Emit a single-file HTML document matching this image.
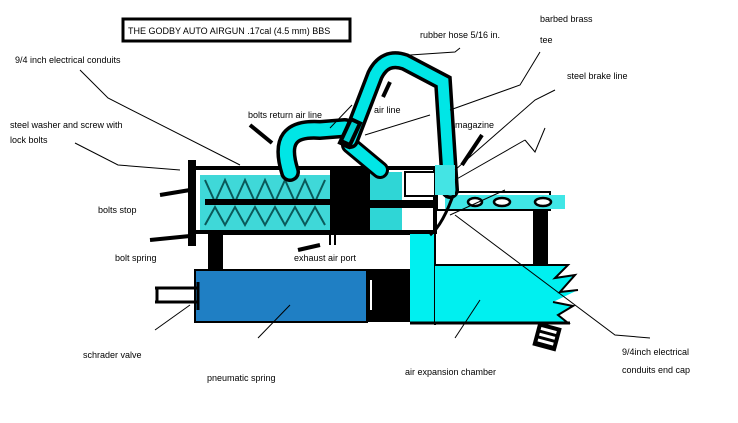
<!DOCTYPE html>
<html><head><meta charset="utf-8"><style>
html,body{margin:0;padding:0;background:#fff;}
svg{display:block;}
text{font-family:"Liberation Sans",sans-serif;font-size:9px;fill:#000;}
</style></head><body>
<svg width="738" height="423" viewBox="0 0 738 423" xmlns="http://www.w3.org/2000/svg">
<rect width="738" height="423" fill="#fff"/>
<rect x="123" y="19" width="227" height="22" fill="#fff" stroke="#000" stroke-width="3"/>
<text x="128" y="34" font-size="9">THE GODBY AUTO AIRGUN    .17cal (4.5 mm) BBS</text>

<rect x="208" y="232" width="14" height="40" fill="#000"/>
<rect x="222" y="234" width="196" height="36" fill="#fff" stroke="#000" stroke-width="2"/>
<rect x="195" y="270" width="172" height="52" fill="#1f7fc4" stroke="#000" stroke-width="2"/>
<rect x="367" y="270" width="45" height="52" fill="#000"/>
<rect x="370" y="280" width="2" height="30" fill="#fff"/>
<rect x="410" y="205" width="25" height="117" fill="#00f0f0"/>
<line x1="435" y1="205" x2="435" y2="325" stroke="#000" stroke-width="2"/>
<polygon points="435,265 568,265 555,278 575,275 560,292 578,290 553,302 573,306 558,315 568,323 435,323" fill="#00f0f0"/>
<polyline points="435,265 568,265 555,278 575,275 560,292 578,290" fill="none" stroke="#000" stroke-width="2"/>
<polyline points="553,302 573,306 558,315 568,323 435,323" fill="none" stroke="#000" stroke-width="2"/>
<line x1="410" y1="323" x2="570" y2="323" stroke="#000" stroke-width="3"/>
<g transform="rotate(15 548 337)"><rect x="535" y="325" width="24" height="24" fill="#000"/>
<rect x="539" y="329" width="16" height="3" fill="#fff"/><rect x="539" y="335" width="16" height="3" fill="#fff"/><rect x="539" y="341" width="16" height="3" fill="#fff"/></g>
<g stroke="#000" stroke-width="3" fill="none">
<line x1="155" y1="288" x2="198" y2="288"/><line x1="155" y1="302" x2="198" y2="302"/>
<line x1="157" y1="288" x2="157" y2="302"/><line x1="198" y1="282" x2="198" y2="310"/>
</g>

<rect x="192" y="168" width="243" height="64" fill="#fff" stroke="#000" stroke-width="4"/>
<rect x="188" y="160" width="8" height="86" fill="#000"/>
<rect x="200" y="175" width="130" height="55" fill="#3fd8d8"/>
<g stroke="#0a5a5a" stroke-width="2" fill="none">
<path d="M205,180 l10,22 l10,-22 l10,22 l10,-22 l10,22 l10,-22 l10,22 l10,-22 l10,22 l10,-22 l10,22 l10,-22"/>
<path d="M205,225 l10,-18 l10,18 l10,-18 l10,18 l10,-18 l10,18 l10,-18 l10,18 l10,-18 l10,18 l10,-18 l10,18"/>
</g>
<rect x="205" y="199" width="130" height="6" fill="#000"/>
<rect x="330" y="168" width="40" height="64" fill="#000"/>
<rect x="370" y="172" width="32" height="58" fill="#2fd6d6"/>
<rect x="370" y="200" width="66" height="8" fill="#000"/>
<rect x="405" y="172" width="30" height="24" fill="#fff" stroke="#000" stroke-width="2"/>
<rect x="437" y="192" width="113" height="18" fill="#fff" stroke="#000" stroke-width="2"/>
<rect x="445" y="195" width="120" height="14" fill="#40e6e6"/>
<g fill="#fff" stroke="#000" stroke-width="2.5"><ellipse cx="475" cy="202" rx="7" ry="4"/><ellipse cx="502" cy="202" rx="8" ry="4"/><ellipse cx="543" cy="202" rx="8" ry="4"/></g>
<rect x="533" y="210" width="15" height="55" fill="#000"/>
<path d="M455,190 q-12,35 -25,45" stroke="#000" stroke-width="3" fill="none"/>

<g fill="none" stroke-linecap="round">
<path d="M290,172 C280,140 290,128 320,130 L345,128" stroke="#000" stroke-width="20"/>
<path d="M290,172 C280,140 290,128 320,130 L345,128" stroke="#00e6e6" stroke-width="13"/>
<path d="M350,145 L380,170" stroke="#000" stroke-width="18"/>
<path d="M350,145 L380,170" stroke="#00e6e6" stroke-width="12"/>
<path d="M350,140 L375,75 Q385,55 405,62 L443,82 L450,190" stroke="#000" stroke-width="18"/>
<path d="M350,140 L375,75 Q385,55 405,62 L443,82 L450,190" stroke="#00e6e6" stroke-width="11"/>
</g>
<rect x="343" y="118" width="14" height="30" fill="#000" transform="rotate(25 350 133)"/>
<rect x="347" y="122" width="6" height="20" fill="#00d0d0" transform="rotate(25 350 133)"/>
<rect x="435" y="165" width="20" height="30" fill="#44e4e4"/>

<g stroke="#000" stroke-width="4">
<line x1="250" y1="125" x2="272" y2="143"/>
<line x1="390" y1="82" x2="383" y2="97"/>
<line x1="482" y1="135" x2="462" y2="165"/>
<line x1="150" y1="240" x2="190" y2="236"/>
<line x1="160" y1="195" x2="190" y2="190"/>
<line x1="298" y1="250" x2="320" y2="245"/>
</g>
<line x1="330" y1="235" x2="330" y2="245" stroke="#000" stroke-width="2"/>
<line x1="335" y1="235" x2="335" y2="245" stroke="#000" stroke-width="2"/>

<g stroke="#000" stroke-width="1" fill="none">
<polyline points="80,70 108,98 240,165"/>
<polyline points="75,143 118,165 180,170"/>
<polyline points="330,128 352,105"/>
<polyline points="365,135 430,115"/>
<polyline points="410,55 455,52 460,48"/>
<polyline points="450,110 520,85 540,52"/>
<polyline points="455,170 535,100 555,90"/>
<polyline points="455,180 525,140"/>
<polyline points="525,140 535,152 545,128"/>
<polyline points="450,215 505,190"/>
<polyline points="455,215 615,335 650,338"/>
<polyline points="155,330 190,305"/>
<polyline points="258,338 290,305"/>
<polyline points="455,338 480,300"/>
</g>

<text x="15" y="63">9/4 inch electrical conduits</text>
<text x="10" y="128">steel washer and screw with</text>
<text x="10" y="143">lock bolts</text>
<text x="248" y="118">bolts return air line</text>
<text x="374" y="113">air line</text>
<text x="420" y="38">rubber hose 5/16 in.</text>
<text x="540" y="22">barbed brass</text>
<text x="540" y="43">tee</text>
<text x="567" y="79">steel brake line</text>
<text x="455" y="128">magazine</text>
<text x="98" y="213">bolts stop</text>
<text x="115" y="261">bolt spring</text>
<text x="294" y="261">exhaust air port</text>
<text x="83" y="358">schrader valve</text>
<text x="207" y="381">pneumatic spring</text>
<text x="405" y="375">air expansion chamber</text>
<text x="622" y="355">9/4inch electrical</text>
<text x="622" y="373">conduits end cap</text>
</svg>
</body></html>
